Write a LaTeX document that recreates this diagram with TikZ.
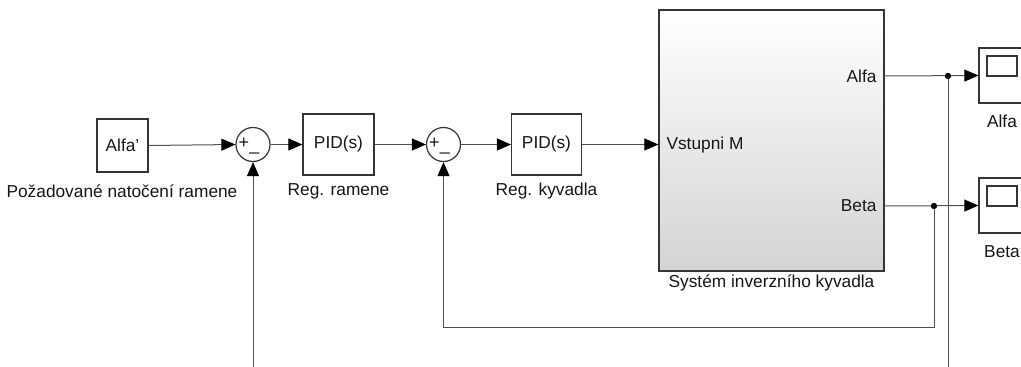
\documentclass[tikz,border=0pt]{standalone}
\usepackage{fontspec}
\setmainfont{Liberation Sans}
\usetikzlibrary{arrows.meta}

\definecolor{wire}{HTML}{505050}
\definecolor{edge}{HTML}{353535}
\definecolor{ink}{HTML}{161616}

\begin{document}
\begin{tikzpicture}[x=1pt,y=-1pt,
  every node/.style={font=\fontsize{17.3}{19}\selectfont, text=ink},
  block/.style={draw=edge, line width=1.2pt, fill=white, inner sep=0pt},
  sumnode/.style={circle, draw=edge, line width=1.2pt, fill=white, minimum size=34pt, inner sep=0pt},
  signs/.style={font=\fontsize{18}{18}\selectfont, inner sep=0pt},
  wireline/.style={draw=wire, line width=1pt},
  sig/.style={wireline, -{Triangle[length=14pt,width=12pt,color=black]}},
  junction/.style={fill=black}
]
\clip (0,0) rectangle (1021,367);
\fill[white] (0,0) rectangle (1021,367);

% --- blocks ---
\node[block, minimum width=51pt, minimum height=53pt] (ref) at (122.5,145.5) {Alfa'};
\node at (122,191) {Požadované natočení ramene};

\node[sumnode] (s1) at (253,144.5) {};
\node[signs] at (249,146) {+\raisebox{-2pt}{\_}};

\node[block, minimum width=71pt, minimum height=61pt] (pid1) at (338.5,144.5) {PID(s)};
\node at (338.5,191) {Reg. ramene};

\node[sumnode] (s2) at (443.5,144.5) {};
\node[signs] at (439.5,146) {+\raisebox{-2pt}{\_}};

\node[block, minimum width=70pt, minimum height=61pt] (pid2) at (546.5,144.5) {PID(s)};
\node at (546.5,191) {Reg. kyvadla};

\node[block, minimum width=225pt, minimum height=261pt,
      top color=white, middle color=black!3, bottom color=black!17] (sys) at (771.5,140.5) {};
\node[anchor=west] at (663,145) {Vstupni M};
\node[anchor=east] (lalfa) at (880,76) {Alfa};
\node[anchor=east] (lbeta) at (880,206) {Beta};
\node at (771.5,283) {Systém inverzního kyvadla};

% scopes
\node[block, minimum width=46pt, minimum height=55pt] (scA) at (1002,75.5) {};
\draw[edge, line width=1.2pt] (987,56) rectangle (1017,76);
\node at (1002,121) {Alfa};
\node[block, minimum width=46pt, minimum height=55pt] (scB) at (1002,205.5) {};
\draw[edge, line width=1.2pt] (987,186) rectangle (1017,206);
\node at (1002,252) {Beta};

% --- port and branch points ---
\coordinate (pa) at (884,76);
\coordinate (pb) at (884,206);
\coordinate (ja) at (948,76);
\coordinate (jb) at (934,206);
\coordinate (fb1) at (934,327);
\coordinate (fb2) at (443.5,327);
\coordinate (ea) at (948,375);
\coordinate (e1) at (253,375);

% --- signal lines ---
\draw[sig] (ref.east) -- (s1.west);
\draw[sig] (s1.east) -- (pid1.west);
\draw[sig] (pid1.east) -- (s2.west);
\draw[sig] (s2.east) -- (pid2.west);
\draw[sig] (pid2.east) -- (pid2.east -| sys.west);

\draw[sig] (pa) -- (scA.west);
\draw[sig] (pb) -- (scB.west);

\draw[wireline] (ja) -- (ea);
\draw[sig] (e1) -- (s1.south);
\draw[sig] (jb) -- (fb1) -- (fb2) -- (s2.south);

\fill[junction] (ja) circle (3.2pt);
\fill[junction] (jb) circle (3.2pt);
\end{tikzpicture}
\end{document}
